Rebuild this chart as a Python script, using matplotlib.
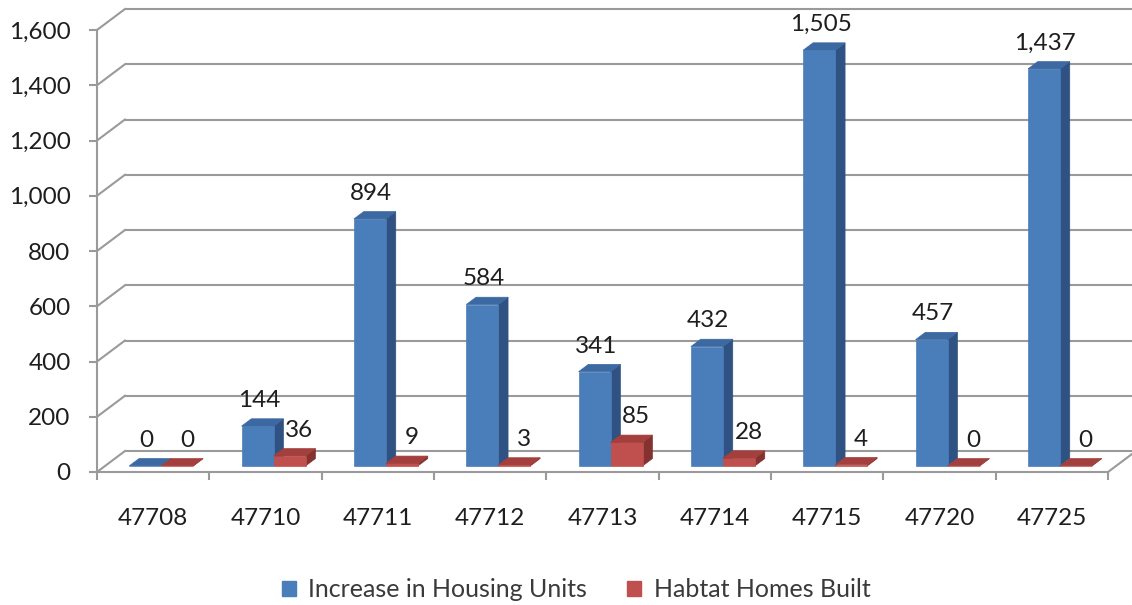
import matplotlib
matplotlib.use("Agg")
import matplotlib.pyplot as plt
from matplotlib.patches import Polygon, Patch

plt.rcParams['font.family'] = ['Lato', 'DejaVu Sans']

zip_codes = ["47708", "47710", "47711", "47712", "47713", "47714", "47715", "47720", "47725"]
housing_units = [0, 144, 894, 584, 341, 432, 1505, 457, 1437]
habitat_homes = [0, 36, 9, 3, 85, 28, 4, 0, 0]
series_names = ["Increase in Housing Units", "Habtat Homes Built"]
y_ticks = list(range(0, 1601, 200))

# face colours: front, top, side
blue = ("#4A7EBB", "#3C69A1", "#2F5283")
red = ("#C0504D", "#A33F3C", "#843230")
grid_col = "#9A9A9A"
text_col = "#1E1E1E"
FS = 17.5

fig = plt.figure(figsize=(11.32, 6.05), dpi=100)
ax = fig.add_axes([97 / 1132, 133 / 605, 1011 / 1132, 442 / 605])
n = len(zip_codes)
ax.set_xlim(0, n)
ax.set_ylim(0, 1600)

# oblique depth of the floor, in data units
DX, DY = 0.249, 76.0
# bar depth occupies this slice of the floor depth
F0, F1 = 0.29, 0.64
W = 0.285

# back wall and left wall gridlines
for v in y_ticks:
    ax.plot([DX, n + DX], [v + DY, v + DY], color=grid_col, lw=1.5,
            clip_on=False, zorder=1, solid_capstyle='butt')
    ax.plot([0, DX], [v, v + DY], color=grid_col, lw=1.5,
            clip_on=False, zorder=1)
# floor right edge
ax.plot([n, n + DX], [0, DY], color=grid_col, lw=1.5, clip_on=False, zorder=1)


def draw_bar(x0, v, cols):
    x1 = x0 + W
    fx, fy = F0 * DX, F0 * DY
    bx, by = F1 * DX, F1 * DY
    front = [(x0 + fx, fy), (x1 + fx, fy), (x1 + fx, v + fy), (x0 + fx, v + fy)]
    top = [(x0 + fx, v + fy), (x1 + fx, v + fy), (x1 + bx, v + by), (x0 + bx, v + by)]
    side = [(x1 + fx, fy), (x1 + bx, by), (x1 + bx, v + by), (x1 + fx, v + fy)]
    for pts, c in ((side, cols[2]), (front, cols[0]), (top, cols[1])):
        ax.add_patch(Polygon(pts, closed=True, facecolor=c, edgecolor=c,
                             lw=0.5, zorder=3, clip_on=False))
    return x0 + W / 2 + fx, v + fy


for i in range(n):
    c = i + 0.5
    bxc, byc = draw_bar(c - W, housing_units[i], blue)
    ax.annotate(f"{housing_units[i]:,}", (bxc, byc), xytext=(1, 18.5),
                textcoords='offset points', ha='center', va='center',
                fontsize=FS, color=text_col, zorder=5)
    rxc, ryc = draw_bar(c, habitat_homes[i], red)
    ax.annotate(f"{habitat_homes[i]:,}", (rxc, ryc), xytext=(7, 18.5),
                textcoords='offset points', ha='center', va='center',
                fontsize=FS, color=text_col, zorder=5)

# axes: left spine and front floor edge
for s in ("top", "right"):
    ax.spines[s].set_visible(False)
for s in ("left", "bottom"):
    ax.spines[s].set_color(grid_col)
    ax.spines[s].set_linewidth(1.5)
    ax.spines[s].set_zorder(2)

ax.set_yticks(y_ticks)
ax.set_yticklabels([f"{t:,}" for t in y_ticks])
ax.tick_params(axis='y', direction='out', length=6, width=1.5, color=grid_col,
               labelsize=FS, labelcolor=text_col, pad=13)

ax.set_xticks(range(n + 1))
ax.set_xticklabels([])
ax.set_xticks([i + 0.5 for i in range(n)], minor=True)
ax.set_xticklabels(zip_codes, minor=True)
ax.tick_params(axis='x', which='major', direction='out', length=6, width=1.5,
               color=grid_col)
ax.tick_params(axis='x', which='minor', length=0, labelsize=FS,
               labelcolor=text_col, pad=26)
ax.patch.set_visible(False)

handles = [Patch(facecolor=blue[0], edgecolor=blue[0]),
           Patch(facecolor=red[0], edgecolor=red[0])]
fig.legend(handles, series_names, loc='center', bbox_to_anchor=(0.509, 0.025),
           ncol=2, frameon=False, fontsize=18, handlelength=0.55,
           handleheight=0.55, handletextpad=0.5, columnspacing=1.6,
           labelcolor='#3A3A3A')

fig.savefig("out.png", dpi=100)
